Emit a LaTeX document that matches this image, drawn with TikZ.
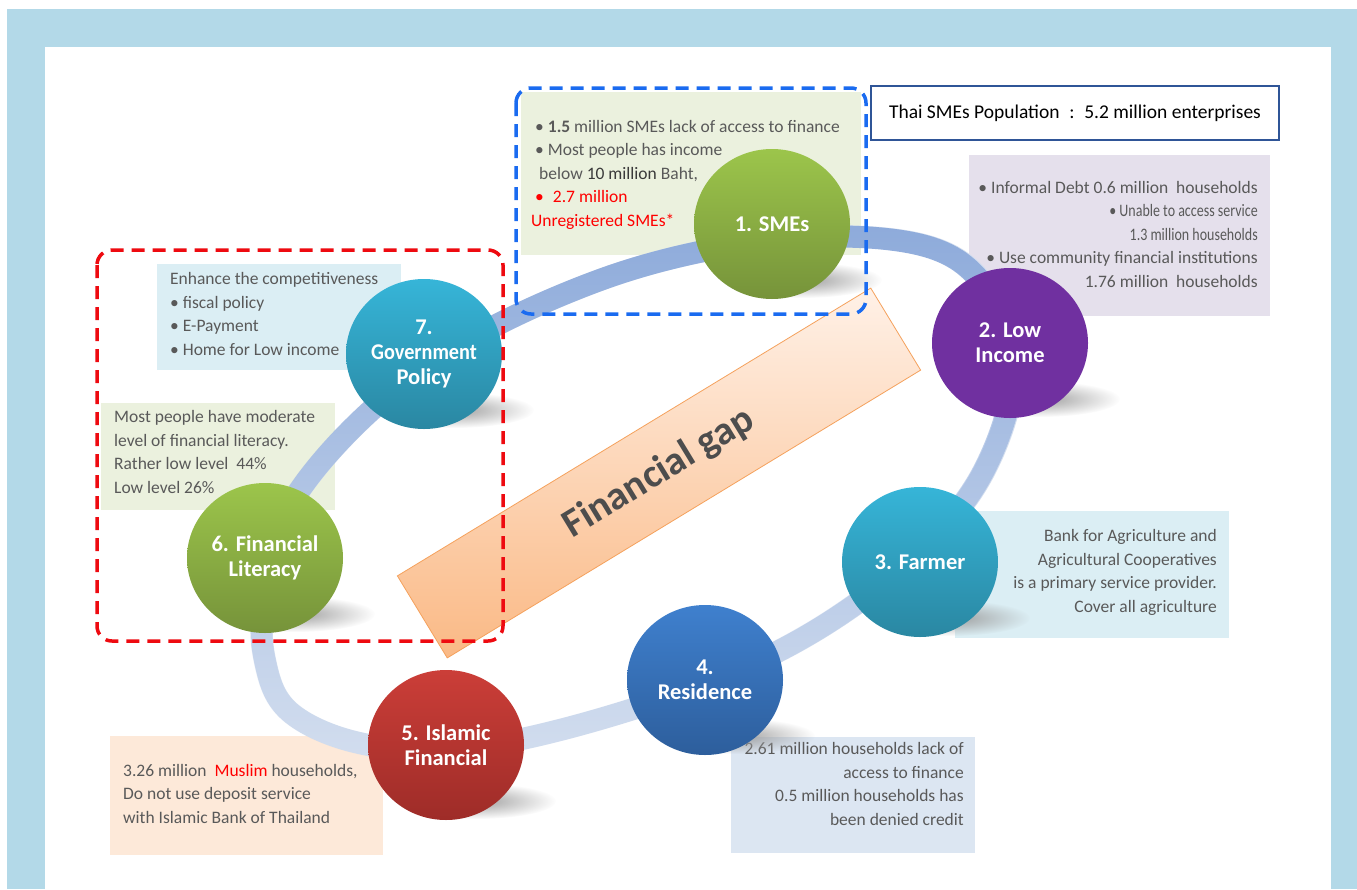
\documentclass[tikz,border=0pt]{standalone}
\usepackage{fontspec}
\usepackage{graphicx}
\setmainfont{Carlito}
\usetikzlibrary{shapes.geometric,fadings}

\definecolor{framecol}{HTML}{B3D9E8}
\definecolor{notegrey}{HTML}{595959}
\definecolor{darknote}{HTML}{3A3A3A}
\definecolor{alertred}{HTML}{FF0000}
\definecolor{smefill}{HTML}{EBF1DE}
\definecolor{lowfill}{HTML}{E5E0EC}
\definecolor{govfill}{HTML}{DBEEF4}
\definecolor{islfill}{HTML}{FDE9D9}
\definecolor{resfill}{HTML}{DCE6F2}
\definecolor{bandlight}{HTML}{D3DEEF}
\definecolor{banddark}{HTML}{8EABDB}
\definecolor{dashblue}{HTML}{1A6BF0}
\definecolor{dashred}{HTML}{EE0A10}
\definecolor{titleedge}{HTML}{2F5597}
\definecolor{greentop}{HTML}{9CC54B}
\definecolor{greenbot}{HTML}{76933A}
\definecolor{tealtop}{HTML}{36B5D8}
\definecolor{tealbot}{HTML}{2A87A2}
\definecolor{purplefill}{HTML}{7030A0}
\definecolor{bluetop}{HTML}{3F80CE}
\definecolor{bluebot}{HTML}{2D5E9C}
\definecolor{redtop}{HTML}{CB3E38}
\definecolor{redbot}{HTML}{9E2C28}
\definecolor{gaptop}{HTML}{FFF1E7}
\definecolor{gapbot}{HTML}{FAB985}
\definecolor{gapedge}{HTML}{F5A15C}
\definecolor{gaptext}{HTML}{4D4D4D}

\tikzfading[name=bandfade, top color=transparent!0, bottom color=transparent!100]
\tikzfading[name=softblob, inner color=transparent!0, outer color=transparent!100]

\newcommand\narrowtxt[1]{\scalebox{0.8}[1]{#1}}

\begin{document}
\begin{tikzpicture}[x=1pt,y=-1pt,
  hub/.style={ellipse, minimum width=156pt, minimum height=150pt, inner sep=0pt,
    text=white, align=center, font=\fontsize{22.5}{25}\selectfont\bfseries},
  note/.style={inner sep=0pt, text=notegrey, font=\fontsize{17.5}{23.5}\selectfont},
  groupframe/.style={line width=3.5pt, rounded corners=15pt, dash pattern=on 13pt off 8pt},
  hubshadow/.style={fill=black!38, path fading=softblob}
]
\useasboundingbox (0,0) rectangle (1357,889);

% page frame
\fill[framecol] (7,9) rectangle (1357,889);
\fill[white] (45,47) rectangle (1331,889);

% note panels
\fill[smefill] (521,92) rectangle (861,255);
\fill[lowfill] (969,155) rectangle (1270,316);
\fill[govfill] (157,264) rectangle (401,370);
\fill[smefill] (101,403) rectangle (335,510);
\fill[govfill] (955,511) rectangle (1229,638);
\fill[islfill] (110,736) rectangle (383,855);
\fill[resfill] (731,737) rectangle (975,853);

% the ring linking the seven groups
\draw[line width=22pt, bandlight,
      postaction={draw=banddark, line width=22pt, path fading=bandfade}]
  plot[smooth cycle, tension=0.6] coordinates {
    (265,600) (300,490) (424,368) (600,280) (772,240) (915,243) (985,285)
    (1014,370) (985,470) (920,552) (820,628) (705,684) (560,730) (446,750)
    (355,742) (290,712) (266,665)};

% note texts (anchored at the baseline of their last line)
\node[note, anchor=base west, align=left] (smenote) at (535,226) {%
  • \textbf{1.5} million SMEs lack of access to finance\\
  • Most people has income\\
  \hspace*{4pt}below {\color{darknote}10 million} Baht,\\
  {\color{alertred}•\hspace{9pt}2.7 million}\\
  \hspace*{-4pt}{\color{alertred}Unregistered SMEs*}};
\node[note, anchor=base east, align=right] (lownote) at (1258,287) {%
  • Informal Debt 0.6 million\ \ households\\
  \narrowtxt{• Unable to access service}\\
  \narrowtxt{1.3 million households}\\
  • Use community financial institutions\\
  1.76 million\ \ households};
\node[note, anchor=base west, align=left] (govnote) at (170,355) {%
  Enhance the competitiveness\\
  • fiscal policy\\
  • E-Payment\\
  • Home for\ Low income};
\node[note, anchor=base west, align=left] (litnote) at (114,493) {%
  Most people\ have moderate\\
  level of financial\ literacy.\\
  Rather low level\ \ 44\%\\
  Low level\ 26\%};
\node[note, anchor=base east, align=right] (farmnote) at (1217,612) {%
  Bank for\ Agriculture and\\
  Agricultural Cooperatives\\
  is a primary service provider.\\
  Cover all agriculture};
\node[note, anchor=base west, align=left] (islnote) at (123,823) {%
  3.26 million\ \ {\color{alertred}Muslim} households,\\
  Do not\ use deposit service\\
  with Islamic Bank of Thailand};
\node[note, anchor=base east, align=right] (resnote) at (964,825) {%
  2.61 million\ households lack of\\
  access to finance\\
  0.5 million\ households has\\
  been denied credit};

% soft shadows under the circles
\foreach \cx/\cy in {772/224, 1010/343, 920/562, 705/680, 446/745, 265/558, 424/354}
  \fill[hubshadow] (\cx+30,\cy+56) ellipse (80 and 18);

% the seven groups
\node[hub, top color=greentop, bottom color=greenbot] (smes) at (772,224) {1. SMEs};
\node[hub, fill=purplefill] (lowinc) at (1010,343) {2. Low\\Income};
\node[hub, top color=tealtop, bottom color=tealbot] (farmer) at (920,562) {3. Farmer};
\node[hub, top color=bluetop, bottom color=bluebot] (resid) at (705,680) {4.\\Residence};
\node[hub, top color=redtop, bottom color=redbot] (islamic) at (446,745) {5. Islamic\\Financial};
\node[hub, top color=greentop, bottom color=greenbot] (literacy) at (265,558) {6. Financial\\Literacy};
\node[hub, top color=tealtop, bottom color=tealbot] (govpol) at (424,354) {7.\\\scalebox{0.9}[1]{Government}\\Policy};

% central banner
\node[rotate=31.3, minimum width=554pt, minimum height=96pt, inner sep=0pt,
      draw=gapedge, line width=0.8pt, top color=gaptop, bottom color=gapbot,
      text=gaptext, font=\fontsize{40}{40}\selectfont\bfseries] (gap) at (659,473) {Financial gap};

% group frames
\draw[groupframe, dashred] (97,250) rectangle (503,641);
\draw[groupframe, dashblue] (516,88) rectangle (866,314);

% headline figure
\node[draw=titleedge, line width=1.3pt, fill=white, minimum width=408pt, minimum height=54pt,
      inner sep=0pt, font=\fontsize{19.5}{21}\selectfont] (headline) at (1075,113)
  {Thai SMEs Population\enspace:\enspace 5.2 million enterprises};
\end{tikzpicture}
\end{document}
